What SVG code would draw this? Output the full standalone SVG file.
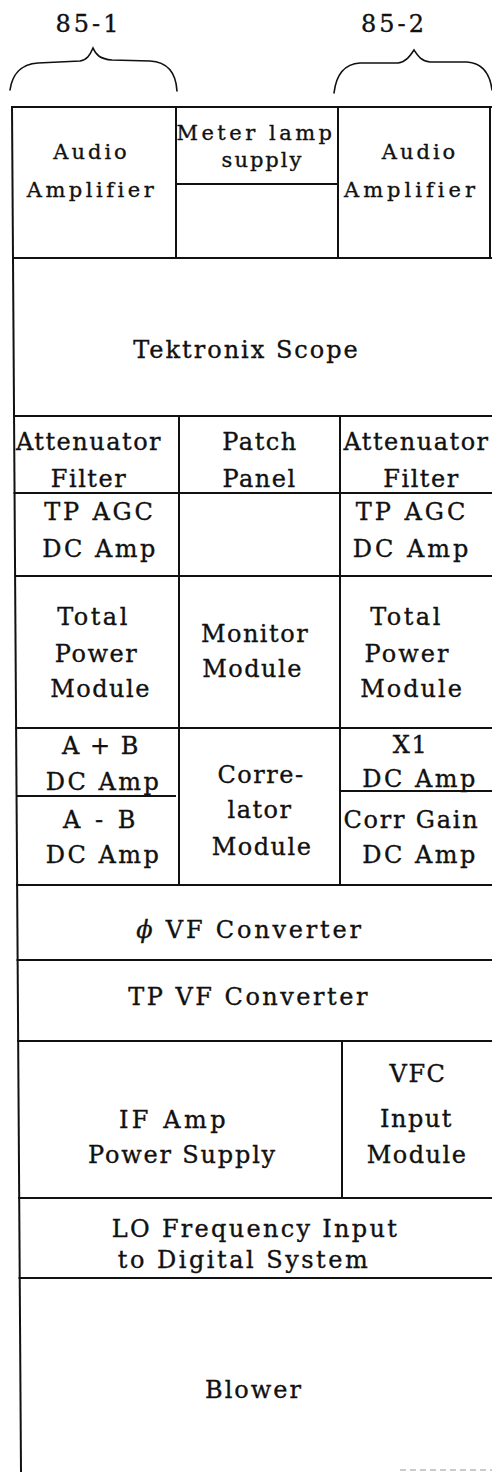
<svg xmlns="http://www.w3.org/2000/svg" width="492" height="1472" viewBox="0 0 492 1472">
<style>
.ln{stroke:#111;stroke-width:2;fill:none;stroke-linecap:square;}
.br{stroke:#111;stroke-width:1.6;fill:none;stroke-linecap:round;}
</style>
<rect x="0" y="0" width="492" height="1472" fill="#fff"/>
<g id="connectors">
  <path class="br" d="M10,90 C12,76 20,64 38,63 L80,61 C87,60 90,55 93,48 C96,55 100,59 112,60 L150,61 C168,62 176,74 177,91"/>
  <path class="br" d="M334,93 C336,76 344,64 360,63 L398,63 C406,62 410,56 414,50 C418,56 421,61 430,62 L467,62 C482,63 490,74 492,90"/>
</g>
<g id="frame">
  <path class="ln" d="M12,107 L21,1472"/>
  <path class="ln" d="M12,107 H492"/>
  <path class="ln" d="M13,258 H492"/>
  <path class="ln" d="M14,416 H492"/>
  <path class="ln" d="M14.5,493 H492"/>
  <path class="ln" d="M15,576 H492"/>
  <path class="ln" d="M16,728 H492"/>
  <path class="ln" d="M17,796 H175"/>
  <path class="ln" d="M342,791 H492"/>
  <path class="ln" d="M17,885 H492"/>
  <path class="ln" d="M17.5,960 H492"/>
  <path class="ln" d="M18,1041 H492"/>
  <path class="ln" d="M19,1198 H492"/>
  <path class="ln" d="M19.5,1278 H492"/>
  <path class="ln" d="M177,184 H336"/>
  <path class="ln" d="M176,107 V258"/>
  <path class="ln" d="M338,107 V258"/>
  <path class="ln" d="M490,107 V258"/>
  <path class="ln" d="M179,416 V885"/>
  <path class="ln" d="M340,416 V885"/>
  <path class="ln" d="M342,1041 V1198"/>
  <path d="M400,1470 H492" stroke="#bbb" stroke-width="1.5" stroke-dasharray="6 4"/>
</g>
<g id="labels" fill="#111" stroke="#111" stroke-width="0.35" text-anchor="middle">
<g id="label-85-1"><text x="88.5" y="32" font-family="DejaVu Serif" font-size="24" letter-spacing="3">85-1</text></g>
<g id="label-85-2"><text x="394" y="32" font-family="DejaVu Serif" font-size="24" letter-spacing="3">85-2</text></g>
<g id="audio-amp-1">
  <text x="91.5" y="159" font-family="DejaVu Serif" font-size="21" letter-spacing="3">Audio</text>
  <text x="92" y="197" font-family="DejaVu Serif" font-size="21" letter-spacing="3.5">Amplifier</text>
</g>
<g id="meter-lamp">
  <text x="256" y="140" font-family="DejaVu Serif" font-size="21" letter-spacing="3.5">Meter lamp</text>
  <text x="262.5" y="167" font-family="DejaVu Serif" font-size="21" letter-spacing="2">supply</text>
</g>
<g id="audio-amp-2">
  <text x="420" y="159" font-family="DejaVu Serif" font-size="21" letter-spacing="3">Audio</text>
  <text x="411.5" y="197" font-family="DejaVu Serif" font-size="21" letter-spacing="4">Amplifier</text>
</g>
<g id="scope"><text x="246.5" y="358" font-family="DejaVu Serif" font-size="24" letter-spacing="2">Tektronix Scope</text></g>
<g id="atten-1">
  <text x="89" y="450" font-family="DejaVu Serif" font-size="24" letter-spacing="1.5">Attenuator</text>
  <text x="89" y="487" font-family="DejaVu Serif" font-size="24" letter-spacing="1.5">Filter</text>
</g>
<g id="patch-panel">
  <text x="260" y="450" font-family="DejaVu Serif" font-size="24" letter-spacing="1.5">Patch</text>
  <text x="259.5" y="487" font-family="DejaVu Serif" font-size="24" letter-spacing="1.5">Panel</text>
</g>
<g id="atten-2">
  <text x="416.5" y="450" font-family="DejaVu Serif" font-size="24" letter-spacing="1.5">Attenuator</text>
  <text x="421.5" y="487" font-family="DejaVu Serif" font-size="24" letter-spacing="1.5">Filter</text>
</g>
<g id="tp-agc-1">
  <text x="100" y="520" font-family="DejaVu Serif" font-size="24" letter-spacing="2.8">TP AGC</text>
  <text x="100" y="557" font-family="DejaVu Serif" font-size="24" letter-spacing="2.5">DC Amp</text>
</g>
<g id="tp-agc-2">
  <text x="412" y="520" font-family="DejaVu Serif" font-size="24" letter-spacing="3">TP AGC</text>
  <text x="412" y="557" font-family="DejaVu Serif" font-size="24" letter-spacing="3">DC Amp</text>
</g>
<g id="total-power-1">
  <text x="93.5" y="625" font-family="DejaVu Serif" font-size="24" letter-spacing="2.5">Total</text>
  <text x="96.5" y="662" font-family="DejaVu Serif" font-size="24" letter-spacing="1.5">Power</text>
  <text x="100.5" y="697" font-family="DejaVu Serif" font-size="24" letter-spacing="1.5">Module</text>
</g>
<g id="monitor">
  <text x="255" y="642" font-family="DejaVu Serif" font-size="24" letter-spacing="1.5">Monitor</text>
  <text x="252.5" y="677" font-family="DejaVu Serif" font-size="24" letter-spacing="1.5">Module</text>
</g>
<g id="total-power-2">
  <text x="406.5" y="625" font-family="DejaVu Serif" font-size="24" letter-spacing="2.5">Total</text>
  <text x="407.5" y="662" font-family="DejaVu Serif" font-size="24" letter-spacing="2">Power</text>
  <text x="412" y="697" font-family="DejaVu Serif" font-size="24" letter-spacing="2">Module</text>
</g>
<g id="apb">
  <text x="101" y="754" font-family="DejaVu Serif" font-size="24" letter-spacing="1.5">A + B</text>
  <text x="103.5" y="790" font-family="DejaVu Serif" font-size="24" letter-spacing="2.5">DC Amp</text>
</g>
<g id="amb">
  <text x="101" y="828" font-family="DejaVu Serif" font-size="24" letter-spacing="3.5">A - B</text>
  <text x="103.5" y="863" font-family="DejaVu Serif" font-size="24" letter-spacing="2.5">DC Amp</text>
</g>
<g id="correlator">
  <text x="261" y="783" font-family="DejaVu Serif" font-size="24" letter-spacing="1.5">Corre-</text>
  <text x="260" y="818" font-family="DejaVu Serif" font-size="24" letter-spacing="1.5">lator</text>
  <text x="262" y="855" font-family="DejaVu Serif" font-size="24" letter-spacing="1.5">Module</text>
</g>
<g id="x1">
  <text x="410.5" y="753" font-family="DejaVu Serif" font-size="24" letter-spacing="1.5">X1</text>
  <text x="420" y="787" font-family="DejaVu Serif" font-size="24" letter-spacing="2.5">DC Amp</text>
</g>
<g id="corr-gain">
  <text x="411.5" y="828" font-family="DejaVu Serif" font-size="24" letter-spacing="1.8">Corr Gain</text>
  <text x="420" y="863" font-family="DejaVu Serif" font-size="24" letter-spacing="2.5">DC Amp</text>
</g>
<g id="phi-vf"><text x="250" y="938" font-family="DejaVu Serif" font-size="24" letter-spacing="2.8"><tspan font-style="italic">ϕ</tspan> VF Converter</text></g>
<g id="tp-vf"><text x="249" y="1005" font-family="DejaVu Serif" font-size="24" letter-spacing="2.5">TP VF Converter</text></g>
<g id="if-amp">
  <text x="174" y="1128" font-family="DejaVu Serif" font-size="24" letter-spacing="3.5">IF Amp</text>
  <text x="182.5" y="1163" font-family="DejaVu Serif" font-size="24" letter-spacing="1.8">Power Supply</text>
</g>
<g id="vfc-input">
  <text x="418" y="1082" font-family="DejaVu Serif" font-size="24" letter-spacing="1.5">VFC</text>
  <text x="416.5" y="1127" font-family="DejaVu Serif" font-size="24" letter-spacing="1.5">Input</text>
  <text x="417" y="1163" font-family="DejaVu Serif" font-size="24" letter-spacing="1.5">Module</text>
</g>
<g id="lo-freq">
  <text x="255.5" y="1237" font-family="DejaVu Serif" font-size="24" letter-spacing="2.3">LO Frequency Input</text>
  <text x="244" y="1268" font-family="DejaVu Serif" font-size="24" letter-spacing="2.5">to Digital System</text>
</g>
<g id="blower"><text x="254" y="1398" font-family="DejaVu Serif" font-size="24" letter-spacing="2">Blower</text></g>
</g>
</svg>
